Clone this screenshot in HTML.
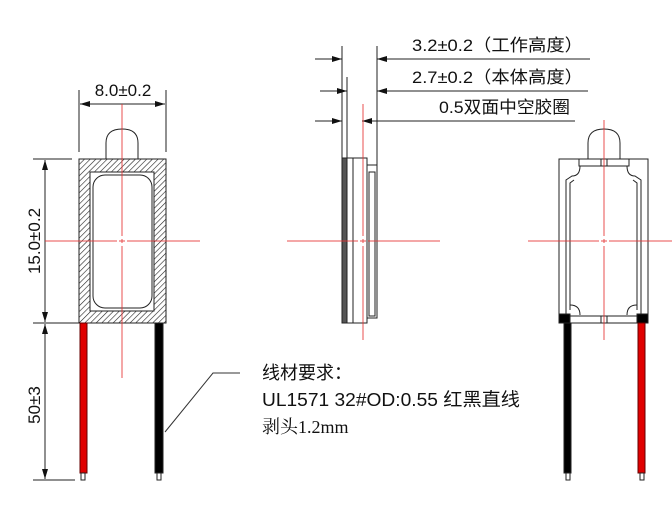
<!DOCTYPE html>
<html><head><meta charset="utf-8"><style>
html,body{margin:0;padding:0;background:#fff;width:672px;height:507px;overflow:hidden}
svg text{font-family:"Liberation Sans","Noto Sans CJK SC",sans-serif;fill:#111}
</style></head><body>
<svg width="672" height="507" viewBox="0 0 672 507" xmlns="http://www.w3.org/2000/svg">
<defs>
<pattern id="h" width="4" height="4" patternUnits="userSpaceOnUse" patternTransform="rotate(45)">
<rect width="4" height="4" fill="#fff"/><line x1="0" y1="0" x2="0" y2="4" stroke="#222" stroke-width="1.2"/></pattern>
<marker id="a" viewBox="0 0 10 6" refX="10" refY="3" markerWidth="10" markerHeight="6" orient="auto-start-reverse" markerUnits="userSpaceOnUse"><path d="M0,0L10,3L0,6z" fill="#111"/></marker>
</defs>
<g stroke="#222" stroke-width="1" fill="none">
<path d="M106,159 V143 Q106,129 122,129 Q138,129 138,143 V159" fill="#fff"/>
<rect x="79" y="159" width="87" height="164" fill="url(#h)"/>
<rect x="90" y="172" width="64" height="139" fill="#fff"/>
<rect x="93" y="175" width="59" height="133" rx="12" fill="#fff"/>
<line x1="79" y1="90" x2="79" y2="152"/><line x1="166" y1="90" x2="166" y2="152"/>
<line x1="80" y1="104" x2="165" y2="104" marker-start="url(#a)" marker-end="url(#a)"/>
<line x1="33" y1="159" x2="72" y2="159"/><line x1="33" y1="323" x2="79" y2="323"/><line x1="33" y1="480" x2="75" y2="480"/>
<line x1="45" y1="160" x2="45" y2="322" marker-start="url(#a)" marker-end="url(#a)"/>
<line x1="45" y1="324" x2="45" y2="479" marker-start="url(#a)" marker-end="url(#a)"/>
<rect x="80" y="323" width="7" height="150" fill="#e00000" stroke="#600"/>
<rect x="155" y="323" width="8" height="150" fill="#000"/>
<rect x="81" y="473" width="4" height="7" fill="#fff"/><rect x="157" y="473" width="4" height="7" fill="#fff"/>
<polyline points="165,432 213,373 240,373" stroke="#333"/>
<line x1="342" y1="46" x2="342" y2="158"/><line x1="377" y1="46" x2="377" y2="165"/>
<line x1="347" y1="77" x2="347" y2="158"/>
<line x1="315" y1="59" x2="342" y2="59" marker-end="url(#a)"/><line x1="590" y1="59" x2="377" y2="59" marker-end="url(#a)"/>
<line x1="320" y1="91" x2="347" y2="91" marker-end="url(#a)"/><line x1="588" y1="91" x2="377" y2="91" marker-end="url(#a)"/>
<line x1="315" y1="121" x2="342" y2="121" marker-end="url(#a)"/><line x1="575" y1="121" x2="362" y2="121" marker-end="url(#a)"/>
<rect x="342" y="158" width="25" height="165" fill="#fff"/>
<rect x="342" y="158" width="5" height="165" fill="#555"/>
<line x1="353" y1="158" x2="353" y2="323"/>
<rect x="367" y="165" width="10" height="153" fill="#fff"/>
<rect x="369" y="172" width="6" height="144"/>
<path d="M588,159 V143 Q588,129 604,129 Q620,129 620,143 V159" fill="#fff"/>
<rect x="559" y="159" width="89" height="164" fill="#fff"/>
<rect x="579" y="159" width="50" height="7"/>
<rect x="601" y="159" width="6" height="7"/>
<path d="M566,314 V180 L572,176 Q580,176 580,166 M641,314 V180 L635,176 Q627,176 627,166"/>
<path d="M570,310 V183 L574,180 M637,310 V183 L633,180"/>
<path d="M570,305 Q580,305 580,315 M627,315 Q627,305 637,305"/>
<line x1="570" y1="316" x2="637" y2="316"/>
<rect x="559" y="314" width="11" height="9" fill="#000"/><rect x="637" y="314" width="11" height="9" fill="#000"/>
<rect x="601" y="316" width="6" height="7"/>
<rect x="564" y="323" width="7" height="150" fill="#000"/>
<rect x="638" y="323" width="7" height="150" fill="#e00000" stroke="#600"/>
<rect x="566" y="473" width="4" height="7" fill="#fff"/><rect x="640" y="473" width="4" height="7" fill="#fff"/>
</g>
<g stroke="#e53030" stroke-width="1" fill="none" opacity="0.85">
<path d="M122,104 V236 M122,239 V243 M122,246 V378 M45,241 H117 M119,241 H125 M127,241 H200"/>
<path d="M363,104 V236 M363,239 V243 M363,246 V340 M287,241 H358 M360,241 H366 M368,241 H440"/>
<path d="M604,120 V236 M604,239 V243 M604,246 V340 M528,241 H599 M601,241 H607 M609,241 H672"/>
</g>
<text x="123" y="96" font-size="17" text-anchor="middle">8.0±0.2</text>
<text transform="translate(40,241) rotate(-90)" font-size="17" text-anchor="middle">15.0±0.2</text>
<text transform="translate(40,405) rotate(-90)" font-size="17" text-anchor="middle">50±3</text>
<text x="412" y="51" font-size="17" textLength="171" lengthAdjust="spacingAndGlyphs">3.2±0.2（工作高度）</text>
<text x="412" y="83" font-size="17" textLength="171" lengthAdjust="spacingAndGlyphs">2.7±0.2（本体高度）</text>
<text x="439" y="113" font-size="17" textLength="131" lengthAdjust="spacingAndGlyphs">0.5双面中空胶圈</text>
<text x="262" y="379" font-size="18">线材要求：</text>
<text x="262" y="406" font-size="18.5" textLength="258" lengthAdjust="spacingAndGlyphs">UL1571 32#OD:0.55 红黑直线</text>
<text x="262" y="433" font-size="18" style="font-family:'Liberation Serif','Noto Serif CJK SC',serif">剥头1.2mm</text>
</svg>
</body></html>
